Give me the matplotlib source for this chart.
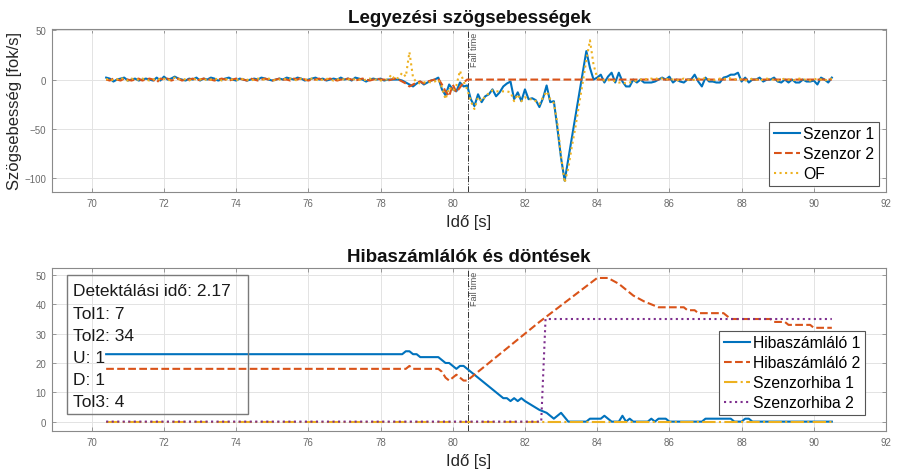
import numpy as np
import matplotlib
matplotlib.use("Agg")
import matplotlib.pyplot as plt
from matplotlib import transforms
from matplotlib.patches import Rectangle

plt.rcParams['font.family'] = ['Liberation Sans', 'DejaVu Sans']

# ---------------- data ----------------
t_start = 70.4
t_step = 0.1

szenzor1 = [
    2, 1, -2, 0, 1, 2, -1, 0, 1, -1,
    0, 1, 0, -1, 2, -1, 3, 0, 1, 3,
    1, 0, -1, 1, 0, 2, -1, 1, 0, 2,
    1, -1, 0, 1, 2, 0, -1, 1, 0, -1,
    0, 1, 0, 2, 1, 0, -1, 0, 1, 0,
    2, 1, 0, 2, 1, -1, 0, 1, 2, 0,
    1, -1, 0, 1, 0, 2, 0, 1, -1, 2,
    1, 0, -2, 0, 1, 0, 1, -1, 0, 0,
    0, 0, -1, -3, -5, -7, -4, -2, -5, -3,
    -1, 0, 2, -10, -16, -5, -10, -12, -3, -7,
    -6, -20, -27, -15, -23, -17, -15, -10, -17, -13,
    -7, -4, -2, -20, -13, -22, -10, -20, -19, -21,
    -28, -19, -6, -23, -22, -50, -80, -103, -81, -59,
    -37, -15, 7, 29, 12, 0, 2, 5, -3, 3,
    7, -3, 7, -2, -7, -7, 0, -3, 0, -3,
    -3, -3, -2, 0, 2, 0, 3, -3, 0, -2,
    -3, 0, 0, 5, -2, -7, 2, -2, -2, -3,
    -3, 2, 3, 5, 5, 7, -2, 2, -3, 0,
    0, 2, -2, 0, 0, 2, -2, -3, 0, -3,
    0, -3, -3, 0, -2, -2, -1, -5, 2, 0,
    -3, 2,
]

szenzor2 = [
    0, -1, 1, 0, -1, 1, 0, -1, 0, 1,
    -1, 0, 1, 0, -3, 1, 0, 1, -1, 0,
    1, -1, 0, 0, 1, -1, 0, 1, 0, 0,
    -1, 0, 1, 0, -1, 0, 1, 1, 0, -1,
    1, 0, -1, 0, 1, 0, -1, 0, 1, 0,
    0, -1, 1, 0, 2, 0, -1, 0, 0, 1,
    -1, 0, 1, 0, -1, 0, 0, 1, 0, -1,
    0, 1, 0, -1, 0, 1, 0, 0, -1, 0,
    1, 0, -2, -4, -7, -5, -3, -2, -4, -2,
    -1, 0, 1, -5, -12, -17, -5, -13, -8, -3,
    0, 0, 0, 0, 0, 0, 0, 0, 0, 0,
    0, 0, 0, 0, 0, 0, 0, 0, 0, 0,
    0, 0, 0, 0, 0, 0, 0, 0, 0, 0,
    0, 0, 0, 0, 0, 0, 0, 0, 0, 0,
    0, 0, 0, 0, 0, 0, 0, 0, 0, 0,
    0, 0, 0, 0, 0, 0, 0, 0, 0, 0,
    0, 0, 0, 0, 0, 0, 0, 0, 0, 0,
    0, 0, 0, 0, 0, 0, 0, 0, 0, 0,
    0, 0, 0, 0, 0, 0, 0, 0, 0, 0,
    0, 0, 0, 0, 0, 0, 0, 0, 0, 0,
    0, 0,
]

of_signal = [
    0, 1, -1, 0, 2, 0, -1, 1, 0, 0,
    1, 0, -1, 0, 1, 0, 1, -1, 0, 2,
    0, 1, 0, -1, 1, 0, 0, 1, -1, 0,
    0, 1, -1, 0, 1, 0, 0, -1, 1, 0,
    -1, 0, 1, 0, 0, 1, 0, -1, 0, 1,
    0, 1, 0, -1, 1, 0, 0, 1, 0, -1,
    0, 1, 0, -1, 0, 1, 0, 0, 1, 0,
    0, -1, 0, 1, 0, 0, -1, 0, 0, 5,
    0, 2, 7, 3, 28, 2, -3, -4, -3, -2,
    -3, -2, 0, -8, -20, -8, -12, -6, 9, -2,
    -10, -22, -30, -18, -22, -17, -14, -11, -12, -12,
    -12, -12, -13, -22, -15, -22, -18, -20, -20, -22,
    -25, -18, -12, -20, -24, -45, -78, -105, -90, -68,
    -48, -25, -3, 20, 40, 15, 2, 0, -1, -1,
    0, -2, -3, -3, -4, -3, -2, -1, 0, 1,
    0, 1, 0, 2, 1, 0, 1, 0, -1, 0,
    1, 0, -1, 0, 1, 0, 2, 0, -1, 0,
    1, 0, 2, 1, 0, 1, 0, -1, 0, 1,
    0, -1, 0, 1, 0, 0, -1, 0, 1, 0,
    -1, 0, 1, 0, 0, -1, 0, 1, 0, -1,
    0, 1,
]

hiba1_t = [70.4, 78.6, 78.7, 78.8, 78.9, 79.0, 79.1, 79.5, 79.6, 79.7, 79.8, 79.9,
           80.0, 80.1, 80.2, 80.3, 80.4, 81.4, 81.5, 81.6, 81.7, 81.8, 81.9, 82.0,
           82.4, 82.6, 82.8, 83.0, 83.2, 83.7, 83.8, 84.1, 84.2, 84.3, 84.4, 84.6,
           84.7, 84.8, 84.9, 85.0, 85.4, 85.5, 85.6, 85.7, 85.9, 86.0, 86.9, 87.0,
           87.7, 87.8, 88.0, 88.1, 88.2, 88.3, 90.5]
hiba1_v = [23, 23, 24, 24, 23, 23, 22, 22, 22, 21, 20, 20,
           19, 18, 19, 19, 18, 8, 8, 7, 8, 7, 8, 7,
           4, 3, 1, 3, 0, 0, 1, 1, 2, 1, 0, 0,
           2, 0, 1, 0, 0, 1, 0, 1, 1, 0, 0, 1,
           1, 0, 0, 1, 1, 0, 0]

hiba2_t = [70.4, 78.7, 78.8, 78.9, 79.6, 79.7, 79.8, 79.9, 80.0, 80.1, 80.2, 80.3,
           80.4, 80.6, 82.4, 84.0, 84.3, 84.6, 85.0, 85.3, 85.5, 85.7, 86.4, 86.5,
           86.7, 86.8, 87.5, 87.6, 87.7, 88.8, 88.9, 89.2, 89.3, 89.9, 90.0, 90.5]
hiba2_v = [18, 18, 19, 18, 18, 17, 15, 14, 15, 16, 15, 14,
           14, 16, 34, 49, 49, 47, 43, 41, 40, 39, 39, 38,
           38, 37, 37, 36, 35, 35, 34, 34, 33, 33, 32, 32]

szhiba1_t = [70.4, 90.5]
szhiba1_v = [0, 0]

szhiba2_t = [70.4, 82.45, 82.57, 90.5]
szhiba2_v = [0, 0, 35, 35]

fail_time = 80.42

info_lines = ["Detektálási idő: 2.17", "Tol1: 7", "Tol2: 34", "U: 1", "D: 1", "Tol3: 4"]

top_labels = ["Szenzor 1", "Szenzor 2", "OF"]
bottom_labels = ["Hibaszámláló 1", "Hibaszámláló 2", "Szenzorhiba 1", "Szenzorhiba 2"]

# ---------------- style ----------------
C_BLUE = '#0072BD'
C_ORANGE = '#D95319'
C_YELLOW = '#EDB120'
C_PURPLE = '#7E2F8E'
TXT = '#262626'
TICKC = '#6b6b6b'
SPINE = '#8a8a8a'
GRID = '#e3e3e3'

t = t_start + t_step * np.arange(len(szenzor1))

W, H = 900, 477
fig = plt.figure(figsize=(9, 4.77), dpi=100)
ax1 = fig.add_axes([52 / W, 1 - 193 / H, 834 / W, 163 / H])
ax2 = fig.add_axes([52 / W, 1 - 432 / H, 834 / W, 163 / H])


def style_axes(ax):
    ax.set_xlim(68.9, 92)
    ax.set_xticks(np.arange(70, 93, 2))
    ax.grid(True, color=GRID, linewidth=0.7)
    ax.set_axisbelow(True)
    for sp in ax.spines.values():
        sp.set_color(SPINE)
        sp.set_linewidth(0.8)
    ax.tick_params(direction='in', length=3, width=0.6, colors=SPINE,
                   labelcolor=TICKC, labelsize=7, top=True, right=True, pad=4)
    ax.set_xlabel("Idő [s]", fontsize=12, color=TXT, labelpad=5)


def fail_marker(ax):
    ax.axvline(fail_time, color='#333333', linestyle='-.', linewidth=0.7, zorder=1)
    tr = transforms.blended_transform_factory(ax.transData, ax.transAxes)
    ax.text(fail_time + 0.19, 0.985, "Fail time", rotation=90, transform=tr,
            ha='center', va='top', fontsize=6.5, color='#555555')


LEG_KW = dict(fontsize=11.3, handlelength=1.65, handletextpad=0.2, borderpad=0.3,
              labelspacing=0.32, fancybox=False, framealpha=1)

# ---- top ----
style_axes(ax1)
ax1.set_ylim(-114.5, 51.5)
ax1.set_yticks([-100, -50, 0, 50])
fail_marker(ax1)
ax1.plot(t, szenzor1, color=C_BLUE, lw=1.5, label=top_labels[0])
ax1.plot(t, szenzor2, color=C_ORANGE, lw=1.5, ls='--', label=top_labels[1])
ax1.plot(t, of_signal, color=C_YELLOW, lw=1.5, ls=':', label=top_labels[2])
ax1.set_title("Legyezési szögsebességek", fontsize=13.5, fontweight='bold',
              color='#111111', pad=5)
ax1.set_ylabel("Szögsebesség [fok/s]", fontsize=12, color=TXT, labelpad=2)
leg1 = ax1.legend(loc='lower right', bbox_to_anchor=((879 - 52) / 834, (193 - 187) / 163),
                  borderaxespad=0.0, **LEG_KW)
leg1.get_frame().set_edgecolor('#555555')
leg1.get_frame().set_linewidth(0.8)

# ---- bottom ----
style_axes(ax2)
ax2.set_ylim(-3.2, 52.4)
ax2.set_yticks([0, 10, 20, 30, 40, 50])
fail_marker(ax2)
ax2.plot(hiba1_t, hiba1_v, color=C_BLUE, lw=1.5, label=bottom_labels[0])
ax2.plot(hiba2_t, hiba2_v, color=C_ORANGE, lw=1.5, ls='--', label=bottom_labels[1])
ax2.plot(szhiba1_t, szhiba1_v, color=C_YELLOW, lw=1.5, ls='-.', label=bottom_labels[2])
ax2.plot(szhiba2_t, szhiba2_v, color=C_PURPLE, lw=1.5, ls=':', label=bottom_labels[3])
ax2.set_title("Hibaszámlálók és döntések", fontsize=13.5, fontweight='bold',
              color='#111111', pad=5)
leg2 = ax2.legend(loc='lower right', bbox_to_anchor=((865 - 52) / 834, (432 - 416) / 163),
                  borderaxespad=0.0, **LEG_KW)
leg2.get_frame().set_edgecolor('#555555')
leg2.get_frame().set_linewidth(0.8)

# info box (transparent, as in the reference)
ax2.add_patch(Rectangle(((67 - 52) / 834, (432 - 415) / 163), 181 / 834, 139 / 163,
                        transform=ax2.transAxes, facecolor='none', edgecolor='#7a7a7a',
                        linewidth=1.0, zorder=5))
for i, line in enumerate(info_lines):
    ypix = 292 + 22.1 * i
    ax2.text((73 - 52) / 834, (432 - ypix) / 163, line, transform=ax2.transAxes,
             fontsize=12.5, color='#1a1a1a', ha='left', va='center', zorder=6)

fig.savefig("out.png", dpi=100)
